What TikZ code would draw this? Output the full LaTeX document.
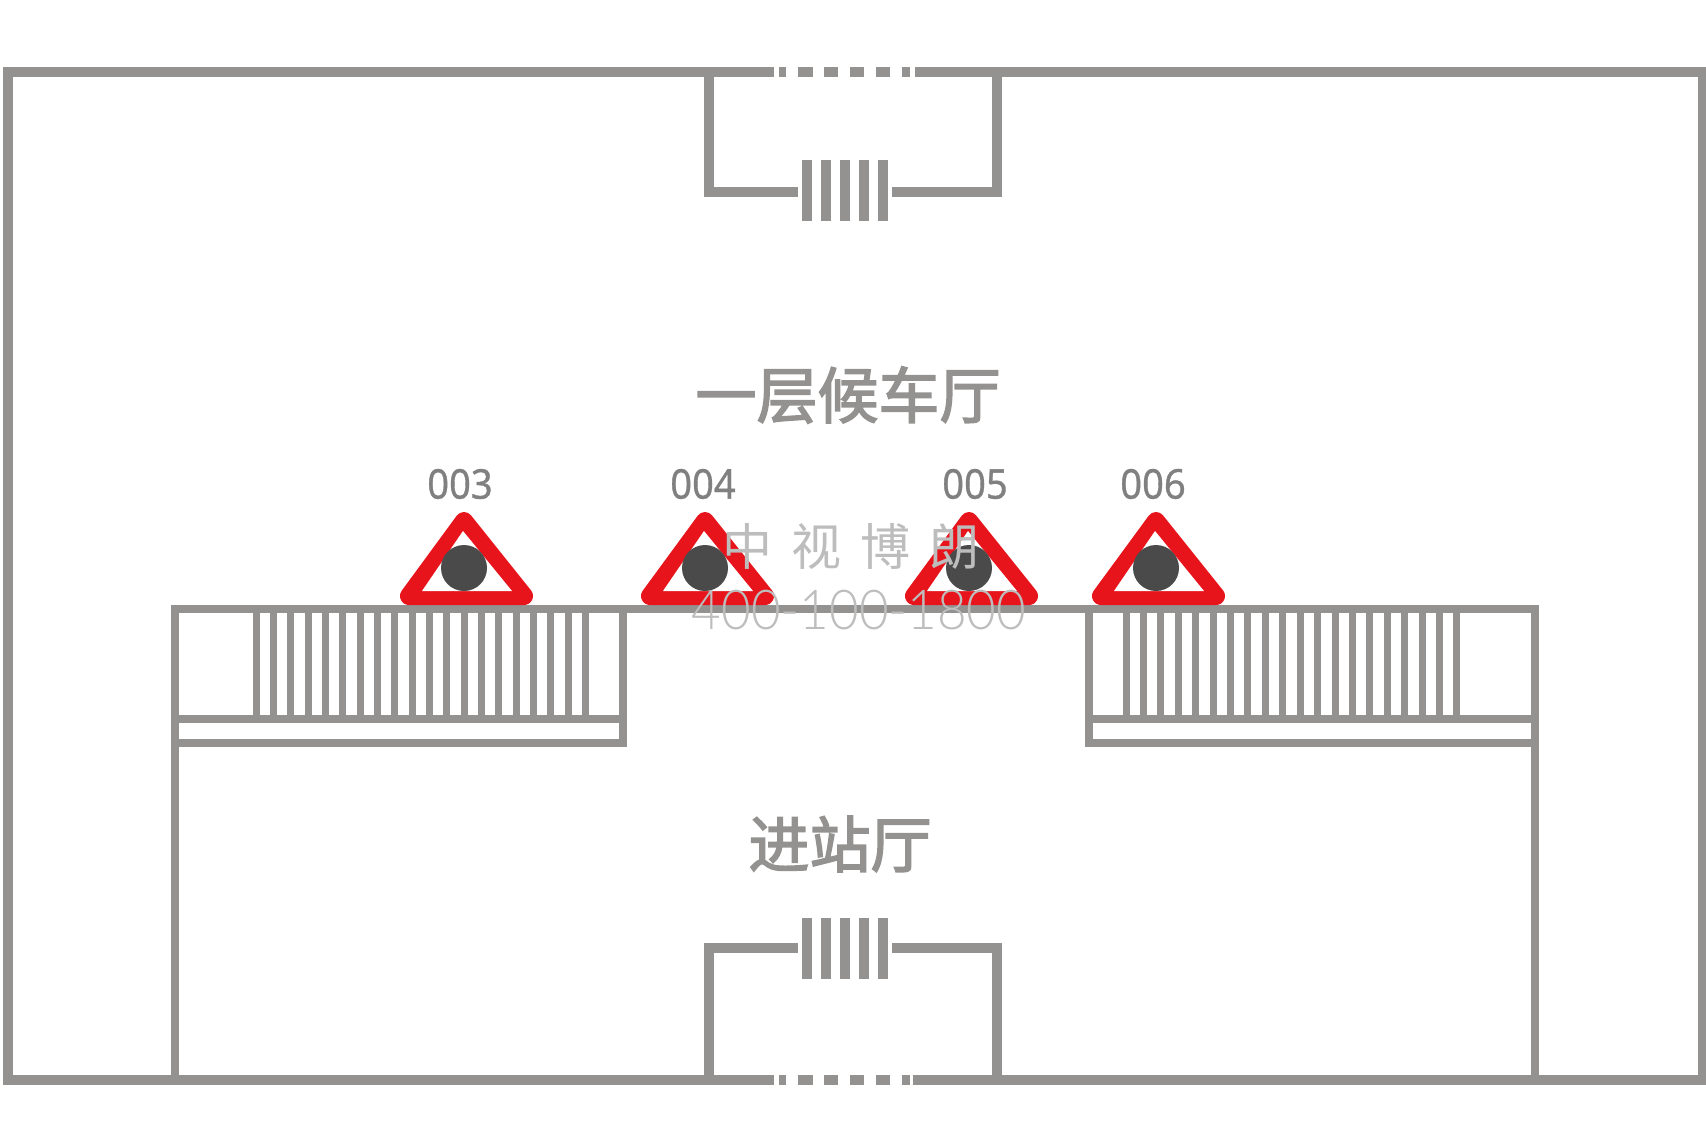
\documentclass[tikz,border=0pt]{standalone}
\usepackage{fontspec}
\setmainfont{Liberation Sans}
\newfontfamily\hallfont[FakeBold=2.5]{Noto Sans CJK SC}
\newfontfamily\markfont[WordSpace=1.7]{Noto Sans CJK SC}
\newfontfamily\numfont[FakeStretch=0.93,FakeBold=0.8]{Noto Sans}
\newfontfamily\phonefont[FakeStretch=0.93]{Lato Light}
\definecolor{wallgray}{HTML}{939291}
\definecolor{alarmred}{HTML}{E8141C}
\definecolor{dotgray}{HTML}{4A4A4A}
\definecolor{markgray}{HTML}{BDBDBD}
\begin{document}
\begin{tikzpicture}[x=1pt,y=-1pt]
  \tikzset{
    outerwall/.style={draw=wallgray,line width=9.5pt},
    wall/.style={draw=wallgray,line width=8.5pt},
    stair/.style={draw=wallgray,line width=7pt},
    door/.style={draw=wallgray,line width=10pt},
    sign/.style={draw=alarmred,fill=alarmred,line width=18pt,line join=round},
    signhole/.style={fill=white},
    dot/.style={fill=dotgray},
    hall/.style={text=wallgray,font=\hallfont\fontsize{61}{61}\selectfont,inner sep=0pt},
    signlabel/.style={text=gray,font=\numfont\fontsize{41}{41}\selectfont,inner sep=0pt},
  }
  \useasboundingbox[fill=white] (0,0) rectangle (1706,1148);
  % outer walls
  \draw[outerwall] (774,72) -- (8,72) -- (8,1080) -- (774,1080);
  \draw[outerwall] (915,72) -- (1703,72) -- (1703,1080) -- (913,1080);
  \foreach \a/\b in {779/786,798/813,824/838,850/864,876/890,902/910} {
    \draw[outerwall] (\a,72) -- (\b,72);
    \draw[outerwall] (\a,1080) -- (\b,1080);
  }
  % alcoves
  \draw[outerwall] (709,72) -- (709,192) -- (798,192);
  \draw[outerwall] (997,72) -- (997,192) -- (892,192);
  \draw[outerwall] (709,1080) -- (709,948) -- (798,948);
  \draw[outerwall] (997,1080) -- (997,948) -- (892,948);
  \foreach \x in {807,826,845,864,883} {
    \draw[door] (\x,160) -- (\x,221);
    \draw[door] (\x,918) -- (\x,979);
  }
  % lobby
  \draw[wall] (175,1080) -- (175,609) -- (1535,609) -- (1535,1080);
  \draw[wall] (175,719) -- (623,719) (175,743) -- (623,743) -- (623,609);
  \draw[wall] (1535,719) -- (1089,719) (1535,743) -- (1089,743) -- (1089,609);
  \foreach \i in {0,...,19} {
    \draw[stair] ({256+17.35*\i},609) -- ({256+17.35*\i},719);
    \draw[stair] ({1126+17.42*\i},609) -- ({1126+17.42*\i},719);
  }
  % signs
  \foreach \x/\lx/\lab in {466/460/003,707/703/004,971/975/005,1158/1153/006} {
    \draw[sign] (\x-57,596) -- (\x-2,521) -- (\x+58,596) -- cycle;
    \fill[signhole] (\x-44,591) -- (\x-3,531) -- (\x+46,591) -- cycle;
    \fill[dot] (\x-2,568) circle (23);
    \node[signlabel] (label\lab) at (\lx,484) {\lab};
  }
  % hall names
  \node[hall] (upperhall) at (848,395) {一层候车厅};
  \node[hall] (entryhall) at (840,844) {进站厅};
  % watermark
  \node[text=markgray,font=\markfont\fontsize{50}{50}\selectfont,inner sep=0pt] (markname) at (851,546) {中 视 博 朗};
  \node[text=markgray,font=\phonefont\fontsize{55}{55}\selectfont,inner sep=0pt] (markphone) at (859,610) {400-100-1800};
\end{tikzpicture}
\end{document}
